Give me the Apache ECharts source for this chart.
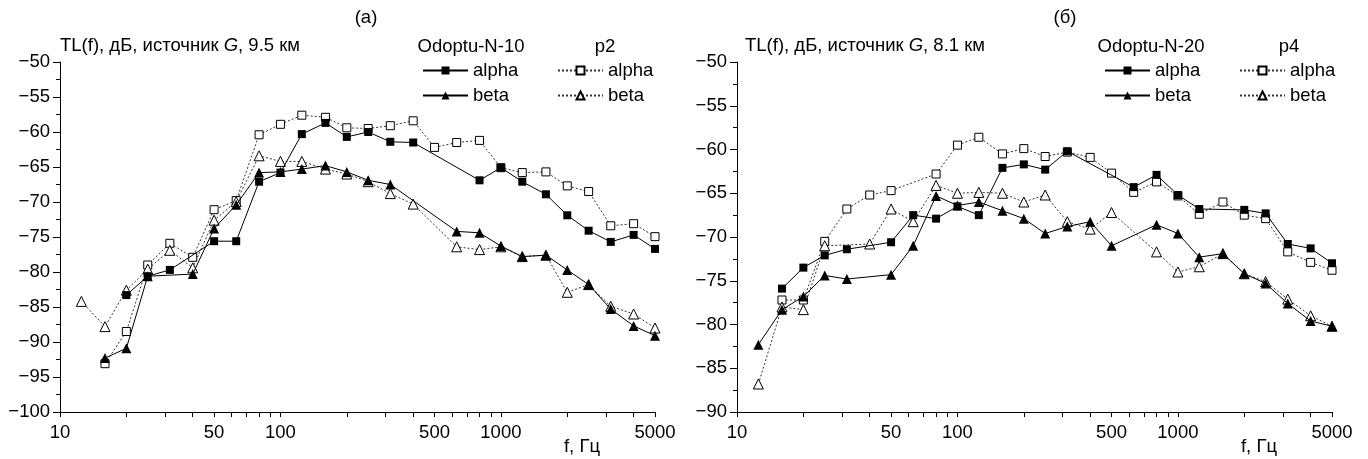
<!DOCTYPE html>
<html>
<head>
<meta charset="utf-8">
<script src="https://cdn.jsdelivr.net/npm/echarts@6/dist/echarts.min.js"></script>
<style>
html,body{margin:0;padding:0;background:#fff;}
#chart{width:1368px;height:459px;}
</style>
</head>
<body>
<div id="chart"></div>
<script>
// 1/3-octave band centre frequencies, Hz
const freqs = [12.5,16,20,25,31.5,40,50,63,80,100,125,160,200,250,315,400,500,630,800,1000,1250,1600,2000,2500,3150,4000,5000];

// Panel (a): source G, 9.5 km
const odoptu10Alpha = [null,null,-83.3,-80.6,-79.7,null,-75.6,-75.6,-67.1,-65.8,-60.3,-58.7,-60.7,-60.0,-61.4,-61.5,null,null,-66.9,-65.1,-67.1,-68.9,-71.9,-74.1,-75.7,-74.7,-76.7];
const p2Alpha       = [null,-93.1,-88.5,-79.0,-75.9,-77.9,-71.1,-69.8,-60.4,-58.9,-57.6,-57.9,-59.4,-59.5,-59.1,-58.4,-62.2,-61.5,-61.2,-65.1,-65.8,-65.7,-67.7,-68.5,-73.4,-73.1,-74.95];
const odoptu10Beta  = [null,-92.3,-90.9,-80.6,null,-80.3,-73.8,-70.4,-65.8,-65.7,-65.3,-64.8,-65.7,-66.9,-67.5,null,null,-74.2,-74.4,-76.3,-77.8,-77.6,-79.7,-81.8,-85.3,-87.7,-89.1];
const p2Beta        = [-84.2,-87.8,-82.6,-79.6,-76.9,-79.4,-72.6,-69.95,-63.4,-64.2,-64.2,-65.3,-66.0,-67.1,-68.8,-70.3,null,-76.4,-76.8,-76.4,-77.8,-77.6,-82.9,-81.8,-84.9,-86.0,-88.0];

// Panel (б): source G, 8.1 km
const odoptu20Alpha = [null,-75.9,-73.5,-72.1,-71.4,null,-70.6,-67.5,-67.9,-66.5,-67.5,-62.1,-61.7,-62.3,-60.2,null,null,-64.3,-62.9,-65.2,-66.8,null,-66.9,-67.3,-70.8,-71.3,-73.0];
const p4Alpha       = [null,-77.2,-77.2,-70.5,-66.8,-65.2,-64.7,null,-62.8,-59.5,-58.6,-60.5,-59.9,-60.8,-60.3,-60.9,-62.7,-64.9,-63.7,-65.3,-67.4,-66.0,-67.5,-67.9,-71.7,-72.9,-73.8];
const odoptu20Beta  = [-82.3,-78.3,-76.8,-74.4,-74.8,null,-74.3,-71.0,-65.3,-66.4,-66.0,-67.0,-67.9,-69.6,-68.8,-68.25,-71.0,null,-68.6,-69.6,-72.3,-71.9,-74.2,-75.3,-77.6,-79.6,-80.2];
const p4Beta        = [-86.8,-78.0,-78.3,-71.0,null,-70.8,-66.8,-68.25,-64.1,-65.0,-64.9,-65.0,-66.0,-65.2,-68.25,-69.1,-67.2,null,-71.7,-74.0,-73.4,-71.9,-74.2,-75.1,-77.1,-79.0,-80.2];

// Axis tick labels and tick positions
const xTickLabels = [10,50,100,500,1000,5000];
const xTicks = [10,20,30,40,50,60,70,80,90,100,200,300,400,500,600,700,800,900,1000,2000,3000,4000,5000];

const FONT = 'Liberation Sans, Arial, sans-serif';
const FS = 18.5;
const chart = echarts.init(document.getElementById('chart'));

function pairs(vals){
  const out = [];
  freqs.forEach((f,i)=>{ if (vals[i] !== null) out.push([f, vals[i]]); });
  return out;
}
function mkSeries(name, vals, grid, filled, symbol){
  return {
    name: name, type: 'line', xAxisIndex: grid, yAxisIndex: grid,
    data: pairs(vals), symbol: symbol,
    symbolSize: symbol === 'rect' ? 8 : 10,
    showSymbol: true, animation: false,
    lineStyle: filled ? {color:'#000', width:1, type:'solid'} : {color:'#333', width:1, type:[2,2]},
    itemStyle: filled ? {color:'#000', borderColor:'#000', borderWidth:0} : {color:'#fff', borderColor:'#000', borderWidth:1},
    emphasis: {disabled: true},
    z: filled ? 3 : 2
  };
}
function xAxis(grid){
  return {
    type:'log', logBase:10, min:10, max:5000, gridIndex:grid, position:'bottom',
    splitLine:{show:false}, minorTick:{show:false},
    axisLine:{show:true, lineStyle:{color:'#000', width:1}},
    axisTick:{show:true, customValues:xTicks, length:5, lineStyle:{color:'#000'}},
    axisLabel:{show:true, customValues:xTickLabels, fontSize:FS, color:'#000', fontFamily:FONT, margin:11,
               formatter: v => String(v)}
  };
}
function yAxis(grid, min){
  return {
    type:'value', gridIndex:grid, min:min, max:-50, interval:5, position:'left',
    axisLine:{show:true, lineStyle:{color:'#000', width:1}},
    axisTick:{show:true, length:7, lineStyle:{color:'#000'}},
    minorTick:{show:true, splitNumber:2, length:4, lineStyle:{color:'#000'}},
    axisLabel:{fontSize:FS, color:'#000', fontFamily:FONT, margin:10,
               formatter: v => String(v).replace('-', '\u2212')},
    splitLine:{show:false}, minorSplitLine:{show:false}
  };
}
function legend(names, left){
  return {
    data: names, orient:'vertical', left:left, top:61, padding:0,
    itemWidth:45, itemHeight:10, itemGap:6, selectedMode:false,
    formatter: n => n.split(' ')[1],
    textStyle:{fontSize:FS, color:'#000', fontFamily:FONT}
  };
}
function txt(text, x, y, align, size, rich){
  const style = {text:text, x:x, y:y, fill:'#000', font: size + 'px ' + FONT, textAlign:align, textVerticalAlign:'middle'};
  if (rich) style.rich = rich;
  return {type:'text', style:style, z:10};
}
const italic = {i:{fontStyle:'italic', fontSize:FS, fontFamily:FONT, fill:'#000'}};

chart.setOption({
  animation:false,
  backgroundColor:'#fff',
  textStyle:{fontFamily:FONT},
  grid:[
    {left:60, right:713, top:62, bottom:47, containLabel:false},
    {left:737, right:36, top:62, bottom:47, containLabel:false}
  ],
  xAxis: [xAxis(0), xAxis(1)],
  yAxis: [yAxis(0,-100), yAxis(1,-90)],
  legend: [
    legend(['Odoptu-N-10 alpha','Odoptu-N-10 beta'], 422),
    legend(['p2 alpha','p2 beta'], 557),
    legend(['Odoptu-N-20 alpha','Odoptu-N-20 beta'], 1104),
    legend(['p4 alpha','p4 beta'], 1239)
  ],
  graphic: [
    txt('(a)', 366, 18, 'center', FS),
    txt('(б)', 1065, 18, 'center', FS),
    txt('TL(f), дБ, источник {i|G}, 9.5 км', 60, 46, 'left', FS, italic),
    txt('TL(f), дБ, источник {i|G}, 8.1 км', 745, 46, 'left', FS, italic),
    txt('Odoptu-N-10', 471, 47, 'center', FS),
    txt('p2', 605, 47, 'center', FS),
    txt('Odoptu-N-20', 1151, 47, 'center', FS),
    txt('p4', 1289, 47, 'center', FS),
    txt('f, Гц', 600, 447, 'right', FS),
    txt('f, Гц', 1277, 447, 'right', FS)
  ],
  series: [
    mkSeries('p2 alpha', p2Alpha, 0, false, 'rect'),
    mkSeries('p2 beta', p2Beta, 0, false, 'triangle'),
    mkSeries('Odoptu-N-10 alpha', odoptu10Alpha, 0, true, 'rect'),
    mkSeries('Odoptu-N-10 beta', odoptu10Beta, 0, true, 'triangle'),
    mkSeries('p4 alpha', p4Alpha, 1, false, 'rect'),
    mkSeries('p4 beta', p4Beta, 1, false, 'triangle'),
    mkSeries('Odoptu-N-20 alpha', odoptu20Alpha, 1, true, 'rect'),
    mkSeries('Odoptu-N-20 beta', odoptu20Beta, 1, true, 'triangle')
  ]
});
</script>
</body>
</html>
